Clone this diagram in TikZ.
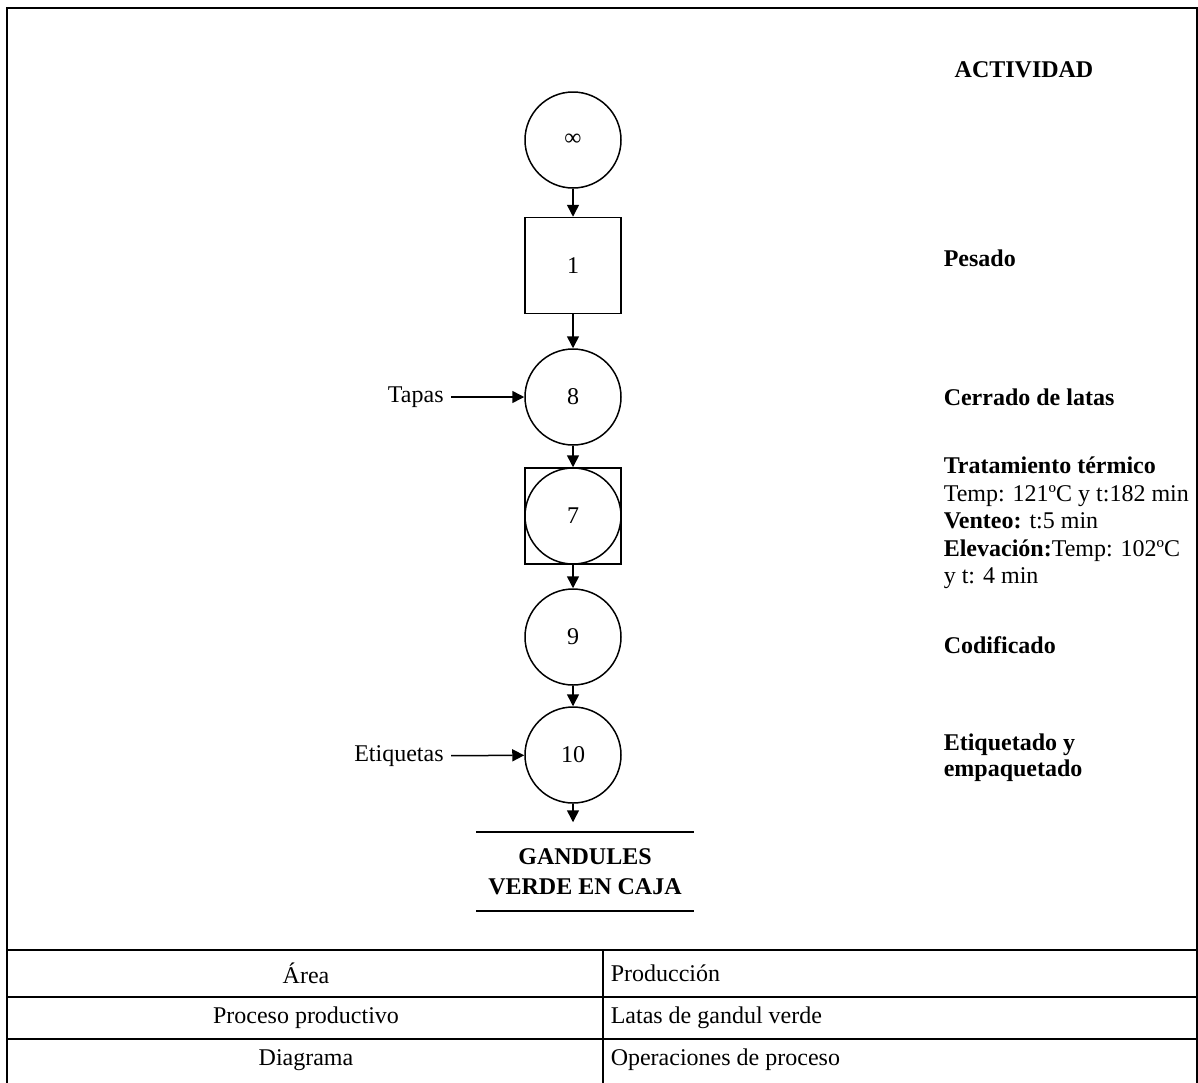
\documentclass[tikz,border=0pt]{standalone}
\usepackage{fontspec}
\setmainfont{Liberation Serif}
\usetikzlibrary{arrows.meta}

\begin{document}
\begin{tikzpicture}[x=0.5pt, y=-0.5pt, line width=0.75pt, font=\fontsize{12}{13.8}\selectfont,
		main/.style = {draw, circle, minimum size=48pt, inner sep=0pt},
		oper/.style = {draw, rectangle, minimum size=48pt, inner sep=0pt},
		flow/.style = {-{Triangle[length=6pt,width=6pt]}},
		act/.style = {font=\fontsize{12}{13.8}\selectfont\bfseries, anchor=west, inner sep=0pt},
		cell/.style = {inner sep=0pt}]
		
		\useasboundingbox (0,0) rectangle (1198,1082);
		
		% frame and table
		\draw (7,1090) -- (7,8) -- (1197,8) -- (1197,1090);
		\draw[line width=1.2pt] (7,950) -- (1197,950);
		\draw (7,997) -- (1197,997);
		\draw (7,1039) -- (1197,1039);
		\draw (603,950) -- (603,1090);
		
		\node[cell] (area) at (306,973) {Área};
		\node[cell, anchor=west] (areav) at (610,973) {Producción};
		\node[cell] (proc) at (306,1018) {Proceso productivo};
		\node[cell, anchor=west] (procv) at (610,1018) {Latas de gandul verde};
		\node[cell] (diag) at (306,1060) {Diagrama};
		\node[cell, anchor=west] (diagv) at (610,1060) {Operaciones de proceso};
		
		% process
		\node[main] (inf) at (573,140) {∞};
		\node[oper] (1) at (573,265.5) {1};
		\node[main] (8) at (573,397) {8};
		\node[oper] (7s) at (573,516) {};
		\node[main] (7) at (573,516) {7};
		\node[main] (9) at (573,637) {9};
		\node[main] (10) at (573,755) {10};
		
		\node[anchor=east] (tapas) at (451,397) {Tapas};
		\node[anchor=east] (etiquetas) at (451,756) {Etiquetas};
		
		\node[align=center, font=\fontsize{12}{15}\selectfont\bfseries, minimum width=108pt, minimum height=38.5pt] (gandules) at (585,871.5) {GANDULES\\VERDE EN CAJA};
		\draw[line width=1pt] (gandules.north west) -- (gandules.north east);
		\draw[line width=1pt] (gandules.south west) -- (gandules.south east);
		
		\draw[flow] (inf) -- (1);
		\draw[flow] (1) -- (8);
		\draw[flow] (8) -- (7s);
		\draw[flow] (7s) -- (9);
		\draw[flow] (9) -- (10);
		\draw[flow, shorten >=5pt] (10.south) -- (10.south |- gandules.north);
		\draw[flow] (tapas) -- (8);
		\draw[flow] (etiquetas) -- (10);
		
		% activities
		\node[act, anchor=center] (actividad) at (1024,70) {ACTIVIDAD};
		\node[act] (pesado) at (943,258) {Pesado};
		\node[act] (cerrado) at (943,397) {Cerrado de latas};
		\node[inner sep=0pt, anchor=north west, align=left] (trat) at (943,456) {\textbf{Tratamiento térmico}\\Temp: 121ºC y t:182 min\\\textbf{Venteo:} t:5 min\\\textbf{Elevación:}Temp: 102ºC\\y t: 4 min};
		\node[act] (codif) at (943,645) {Codificado};
		\node[act, align=left, font=\fontsize{12}{13}\selectfont\bfseries] (etiq) at (943,758) {Etiquetado y\\empaquetado};
		
	\end{tikzpicture}
\end{document}
